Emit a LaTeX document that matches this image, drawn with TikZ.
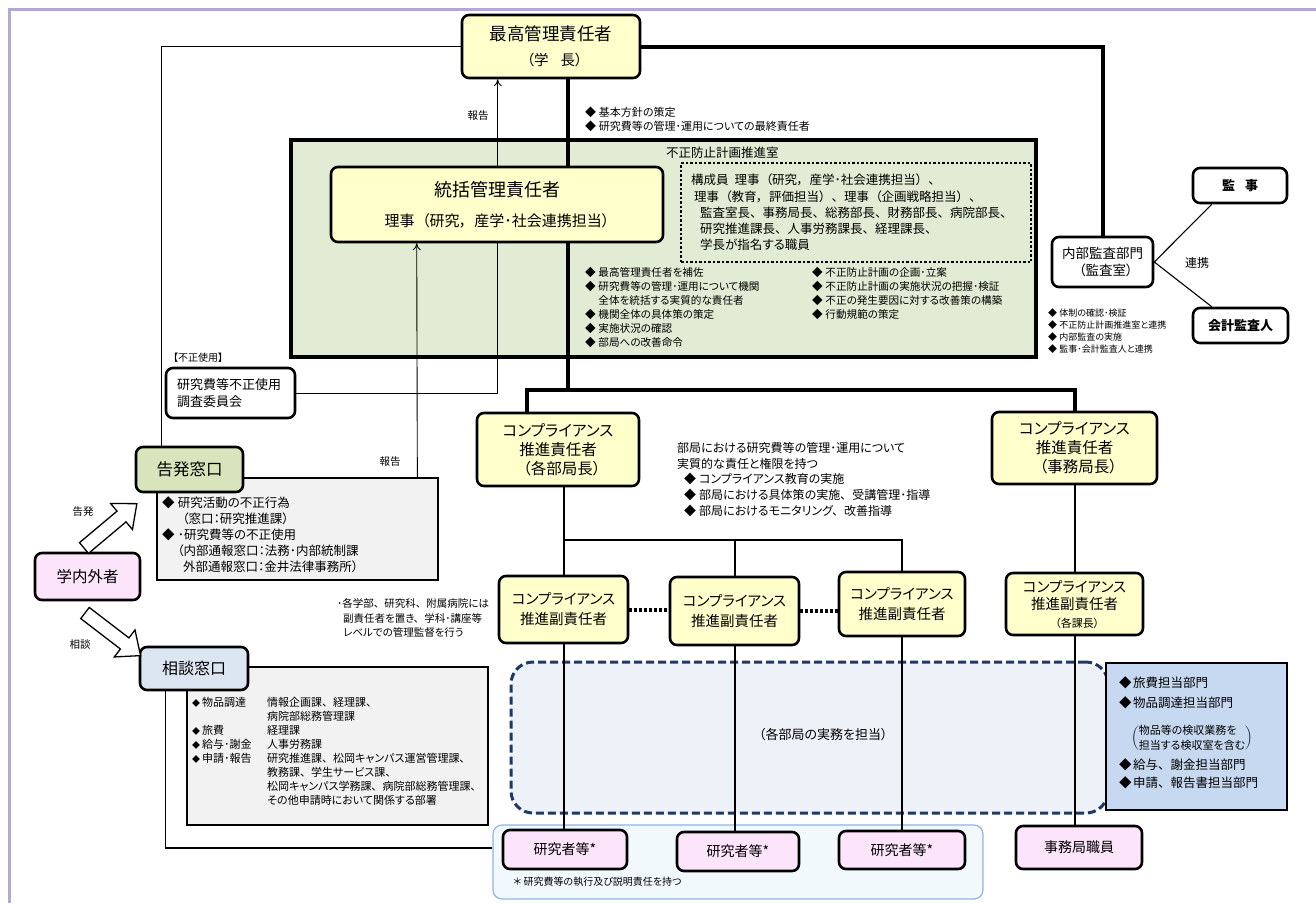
\documentclass[tikz,border=0pt]{standalone}
\usepackage{fontspec}
\setmainfont{Noto Sans CJK JP}[RawFeature=+palt]
\newXeTeXintercharclass\jopen
\newXeTeXintercharclass\jclose
\XeTeXcharclass"FF08=\jopen
\XeTeXcharclass"3010=\jopen
\XeTeXcharclass"FF09=\jclose
\XeTeXcharclass"3011=\jclose
\XeTeXcharclass"3001=\jclose
\XeTeXcharclass"3002=\jclose
\XeTeXcharclass"FF0C=\jclose
\XeTeXcharclass"FF65=0
\XeTeXinterchartokenstate=1
\XeTeXinterchartoks 0 \jopen = {\hskip0.5em\relax}
\XeTeXinterchartoks 1 \jopen = {\hskip0.5em\relax}
\XeTeXinterchartoks \jclose \jopen = {\hskip0.5em\relax}
\XeTeXinterchartoks 4095 \jopen = {\hskip0.5em\relax}
\XeTeXinterchartoks \jclose 0 = {\hskip0.5em\relax}
\XeTeXinterchartoks \jclose 1 = {\hskip0.5em\relax}
\XeTeXinterchartoks \jclose \jclose = {\hskip0.5em\relax}
\XeTeXinterchartoks \jclose 4095 = {\hskip0.5em\relax}
\usetikzlibrary{arrows.meta}
\pgfdeclarelayer{bg}
\pgfdeclarelayer{mid}
\pgfsetlayers{bg,mid,main}
\definecolor{cYel}{HTML}{FFFFCC}
\definecolor{cPanel}{HTML}{E2EBD3}
\definecolor{cKoku}{HTML}{D7E4BC}
\definecolor{cSodan}{HTML}{DCE6F2}
\definecolor{cPink}{HTML}{FCE4FA}
\definecolor{cGray}{HTML}{F2F2F2}
\definecolor{cRegion}{HTML}{EDF1F8}
\definecolor{cNavy}{HTML}{1F3864}
\definecolor{cBlue}{HTML}{C6D9F1}
\definecolor{cGroupF}{HTML}{F2F9FD}
\definecolor{cGroupD}{HTML}{8EB4E3}
\definecolor{cLav}{HTML}{B4A7D6}
\newcommand\fsz[2]{\fontsize{#1pt}{#2pt}\selectfont}
\newcommand\bul{\makebox[1.25em][l]{◆}}
\newcommand\ind{\hspace*{1.25em}}
\newcommand\srow[2]{\makebox[10pt][l]{\fontsize{8pt}{8pt}\selectfont ◆}\makebox[65pt][l]{#1}#2}
\newcommand\scont[1]{\hspace*{75pt}#1}
\begin{document}
\begin{tikzpicture}[x=1pt,y=-1pt,
  txt/.style={inner sep=0pt, anchor=west, align=left},
  rbox/.style={draw, line width=2.6pt, rounded corners=7pt, inner sep=0pt, align=center},
  ybox/.style={rbox, fill=cYel},
  pbox/.style={rbox, fill=cPink},
  wbox/.style={rbox, fill=white},
  conn/.style={line width=1.1pt},
  mconn/.style={line width=2pt},
  heavy/.style={line width=4pt},
  rep/.style={line width=0.9pt, -{To[length=7pt,width=8pt]}},
  dotconn/.style={line width=4pt, dash pattern=on 3pt off 2pt},
  barrow/.style={draw, fill=white, line width=1.3pt, line join=miter},
]
\useasboundingbox (0,0) rectangle (1316,903);

% ---------- background layer ----------
\begin{pgfonlayer}{bg}
\draw[cLav, line width=3pt] (9,903) -- (9,9) -- (1316,9);
\node[draw, line width=3.5pt, fill=cPanel, minimum width=745pt, minimum height=217pt, inner sep=0pt] (panel) at (663.5,248.5) {};
\node[draw, line width=2.6pt, dash pattern=on 2.5pt off 2pt, minimum width=350pt, minimum height=99pt, inner sep=0pt] (members) at (856,212.5) {};
\node[draw, line width=1.3pt, fill=cGray, minimum width=281pt, minimum height=102pt, inner sep=0pt] (gray1) at (297.5,529) {};
\node[draw, line width=1.3pt, fill=cGray, minimum width=301pt, minimum height=158pt, inner sep=0pt] (gray2) at (337.5,746) {};
\node[draw=cNavy, line width=3pt, dash pattern=on 8pt off 4pt, fill=cRegion, rounded corners=22pt, minimum width=597pt, minimum height=151pt, inner sep=0pt] (region) at (809.5,737.5) {};
\node[draw, line width=1.8pt, fill=cBlue, minimum width=181pt, minimum height=147pt, inner sep=0pt] (bluebox) at (1196.5,736.5) {};
\node[draw=cGroupD, line width=1.2pt, fill=cGroupF, rounded corners=9pt, minimum width=490pt, minimum height=74pt, inner sep=0pt] (group) at (738,862) {};
\end{pgfonlayer}

% ---------- boxes ----------
\node[ybox, minimum width=178pt, minimum height=63pt, font=\fsz{17.5}{25}] (top) at (551,46.5)
  {\fsz{17.5}{20}最高管理責任者\\\fsz{14.5}{17}（学\hspace{12pt}長）};
\node[ybox, minimum width=332pt, minimum height=75pt, font=\fsz{18}{30}] (togatsu) at (497,204.5)
  {\fsz{18}{20}統括管理責任者\\\fsz{15}{17}理事（研究，産学･社会連携担当）};

\node[wbox, minimum width=101pt, minimum height=50pt, font=\fsz{13.5}{17}] (audit) at (1102.5,262)
  {内部監査部門\\（監査室）};
\node[wbox, minimum width=94pt, minimum height=35pt, font=\bfseries\fsz{13}{15}] (kanji) at (1240,185.5) {監\hspace{10pt}事};
\node[wbox, minimum width=95pt, minimum height=35pt, font=\bfseries\fsz{13}{15}] (kaikei) at (1240.5,325.5) {会計監査人};

\node[wbox, minimum width=129pt, minimum height=50pt, text width=107pt, align=left, font=\fsz{13}{17}] (comm) at (230.5,393)
  {研究費等不正使用\\調査委員会};
\node[rbox, fill=cKoku, minimum width=107pt, minimum height=45pt, font=\fsz{16.5}{19}] (koku) at (189.5,469.5) {告発窓口};
\node[pbox, minimum width=105pt, minimum height=47pt, font=\fsz{15.5}{18}] (gakunai) at (87.5,576.5) {学内外者};
\node[rbox, fill=cSodan, minimum width=108pt, minimum height=43pt, font=\fsz{16}{19}] (sodan) at (194,668.5) {相談窓口};

\node[ybox, minimum width=162pt, minimum height=73pt, font=\fsz{15.5}{19}] (resp1) at (558,449.5)
  {コンプライアンス\\推進責任者\\（各部局長）};
\node[ybox, minimum width=165pt, minimum height=72pt, font=\fsz{15.5}{19}] (resp2) at (1074.5,448)
  {コンプライアンス\\推進責任者\\（事務局長）};

\node[ybox, minimum width=129pt, minimum height=67pt, font=\fsz{14.5}{20}] (sub1) at (563.5,609.5) {コンプライアンス\\推進副責任者};
\node[ybox, minimum width=129pt, minimum height=68pt, font=\fsz{14.5}{20}] (sub2) at (734.5,611) {コンプライアンス\\推進副責任者};
\node[ybox, minimum width=126pt, minimum height=64pt, font=\fsz{14.5}{20}] (sub3) at (902,604) {コンプライアンス\\推進副責任者};
\node[ybox, minimum width=137pt, minimum height=62pt, font=\fsz{14.5}{17.5}] (sub4) at (1074.5,604)
  {コンプライアンス\\推進副責任者\\\fsz{11}{13}（各課長）};

\node[pbox, minimum width=124pt, minimum height=39pt, font=\fsz{14}{16}] (r1) at (565,849.5) {研究者等*};
\node[pbox, minimum width=122pt, minimum height=39pt, font=\fsz{14}{16}] (r2) at (738,851.5) {研究者等*};
\node[pbox, minimum width=126pt, minimum height=38pt, font=\fsz{14}{16}] (r3) at (902,850) {研究者等*};
\node[pbox, minimum width=126pt, minimum height=43pt, font=\fsz{14}{16}] (staff) at (1079,847.5) {事務局職員};

% ---------- texts ----------
\node[txt, anchor=north west, font=\fsz{11}{14}] (basic) at (585,106.5)
  {\bul 基本方針の策定\\\bul 研究費等の管理･運用についての最終責任者};
\node[txt, font=\fsz{12.5}{15}] (roomlbl) at (666,153) {不正防止計画推進室};
\node[txt, anchor=north west, font=\fsz{12.5}{16.3}] (memtxt) at (691,173.8)
  {構成員\hspace{6pt}理事（研究，産学･社会連携担当）、\\
   \hspace*{3pt}理事（教育，評価担当）、理事（企画戦略担当）、\\
   \hspace*{9pt}監査室長、事務局長、総務部長、財務部長、病院部長、\\
   \hspace*{9pt}研究推進課長、人事労務課長、経理課長、\\
   \hspace*{9pt}学長が指名する職員};
\node[txt, anchor=north west, font=\fsz{10.6}{14}] (lbul) at (585,266.7)
  {\bul 最高管理責任者を補佐\\\bul 研究費等の管理･運用について機関\\\ind 全体を統括する実質的な責任者\\\bul 機関全体の具体策の策定\\\bul 実施状況の確認\\\bul 部局への改善命令};
\node[txt, anchor=north west, font=\fsz{10.6}{14}] (rbul) at (812,266.7)
  {\bul 不正防止計画の企画･立案\\\bul 不正防止計画の実施状況の把握･検証\\\bul 不正の発生要因に対する改善策の構築\\\bul 行動規範の策定};
\node[txt, anchor=north west, font=\fsz{9}{12}] (abul) at (1048,308.5)
  {\bul 体制の確認･検証\\\bul 不正防止計画推進室と連携\\\bul 内部監査の実施\\\bul 監事･会計監査人と連携};
\node[font=\fsz{12}{14}, inner sep=0pt] (renkei) at (1197,263) {連携};
\node[font=\fsz{10.5}{12}, inner sep=0pt] (hok1) at (478,116) {報告};
\node[font=\fsz{10.5}{12}, inner sep=0pt] (hok2) at (390,462) {報告};
\node[txt, font=\fsz{10}{12}] (fusei) at (168,358) {【不正使用】};
\node[txt, anchor=north west, font=\fsz{12.5}{16}] (g1txt) at (162,496.8)
  {\bul 研究活動の不正行為\\
   \hspace*{14pt}（窓口：研究推進課）\\
   \bul ･研究費等の不正使用\\
   \hspace*{9pt}（内部通報窓口：法務･内部統制課\\
   \hspace*{21pt}外部通報窓口：金井法律事務所）};
\node[txt, anchor=north west, font=\fsz{11}{13.9}] (g2txt) at (192,697.5)
  {\srow{物品調達}{情報企画課、経理課、}\\
   \scont{病院部総務管理課}\\
   \srow{旅費}{経理課}\\
   \srow{給与･謝金}{人事労務課}\\
   \srow{申請･報告}{研究推進課、松岡キャンパス運営管理課、}\\
   \scont{教務課、学生サービス課、}\\
   \scont{松岡キャンパス学務課、病院部総務管理課、}\\
   \scont{その他申請時において関係する部署}};
\node[font=\fsz{10.5}{12}, inner sep=0pt] (lkoku) at (83,512) {告発};
\node[font=\fsz{10.5}{12}, inner sep=0pt] (lsodan) at (80,645) {相談};
\node[txt, anchor=north west, font=\fsz{12}{15.8}] (desc) at (677,442)
  {部局における研究費等の管理･運用について\\
   実質的な責任と権限を持つ\\
   \hspace*{7pt}\bul コンプライアンス教育の実施\\
   \hspace*{7pt}\bul 部局における具体策の実施、受講管理･指導\\
   \hspace*{7pt}\bul 部局におけるモニタリング、改善指導};
\node[txt, anchor=north west, font=\fsz{10.5}{14.5}] (subnote) at (337,598.8)
  {･各学部、研究科、附属病院には\\
   \hspace*{6pt}副責任者を置き、学科･講座等\\
   \hspace*{6pt}レベルでの管理監督を行う};
\node[font=\fsz{13}{15}, inner sep=0pt] (jitsumu) at (820,735) {（各部局の実務を担当）};
\node[txt, font=\fsz{12.5}{15}] (b1) at (1119,683) {\makebox[14pt][l]{◆}旅費担当部門};
\node[txt, font=\fsz{12.5}{15}] (b2) at (1119,703) {\makebox[14pt][l]{◆}物品調達担当部門};
\node[font=\fsz{11}{15}, inner sep=0pt] (bparen) at (1192,738)
  {$\left(\vcenter{\hbox{物品等の検収業務を}\hbox{担当する検収室を含む}}\right)$};
\node[txt, font=\fsz{12.5}{15}] (b3) at (1119,765) {\makebox[14pt][l]{◆}給与、謝金担当部門};
\node[txt, font=\fsz{12.5}{15}] (b4) at (1119,783) {\makebox[14pt][l]{◆}申請、報告書担当部門};
\node[txt, font=\fsz{10}{12}] (foot) at (513,882) {＊ 研究費等の執行及び説明責任を持つ};

% ---------- block arrows ----------
\begin{scope}[shift={(84,548)}, rotate=40]
  \draw[barrow] (0,-7) -- (49,-7) -- (49,-17) -- (69,0) -- (49,17) -- (49,7) -- (0,7) -- cycle;
\end{scope}
\begin{scope}[shift={(85,613)}, rotate=-37.5]
  \draw[barrow] (0,-7) -- (50,-7) -- (50,-17) -- (70,0) -- (50,17) -- (50,7) -- (0,7) -- cycle;
\end{scope}

% ---------- connectors ----------
\begin{pgfonlayer}{mid}
\coordinate (bus) at (568,390);
\coordinate (br) at (563.5,540);
\draw[conn] (top.west) -| ([xshift=27pt]koku.north west);
\draw[heavy] ([xshift=17pt]top.south) -- (bus);
\draw[heavy] (bus) -| ([xshift=-31pt]resp1.north);
\draw[heavy] (bus) -| (resp2.north);
\draw[heavy] (top.east) -| (audit.north);
\draw[conn] (audit.east) -- ([xshift=20pt]kanji.south west);
\draw[conn] (audit.east) -- ([xshift=20pt]kaikei.north west);
\draw[rep] (comm.east) -| ([xshift=37pt]top.south west);
\draw[rep] ([xshift=261pt]gray1.north west) -- ([xshift=87pt]togatsu.south west);
\draw[conn] ([xshift=27pt]sodan.south west) |- ([yshift=14pt]group.west);
\draw[mconn] (resp1.south -| sub1.north) -- (sub1.north);
\draw[mconn] (br) -| (sub2.north);
\draw[mconn] (br) -| (sub3.north);
\draw[mconn] (resp2.south) -- (resp2.south |- sub4.north);
\draw[mconn] (sub1.south) -- (sub1.south |- r1.north);
\draw[mconn] (sub2.south) -- (sub2.south |- r2.north);
\draw[mconn] (sub3.south) -- (sub3.south |- r3.north);
\draw[mconn] (sub4.south) -- (sub4.south |- staff.north);
\draw[dotconn] (sub1.east) -- (sub1.east -| sub2.west);
\draw[dotconn] (sub2.east) -- (sub2.east -| sub3.west);
\end{pgfonlayer}
\end{tikzpicture}
\end{document}
